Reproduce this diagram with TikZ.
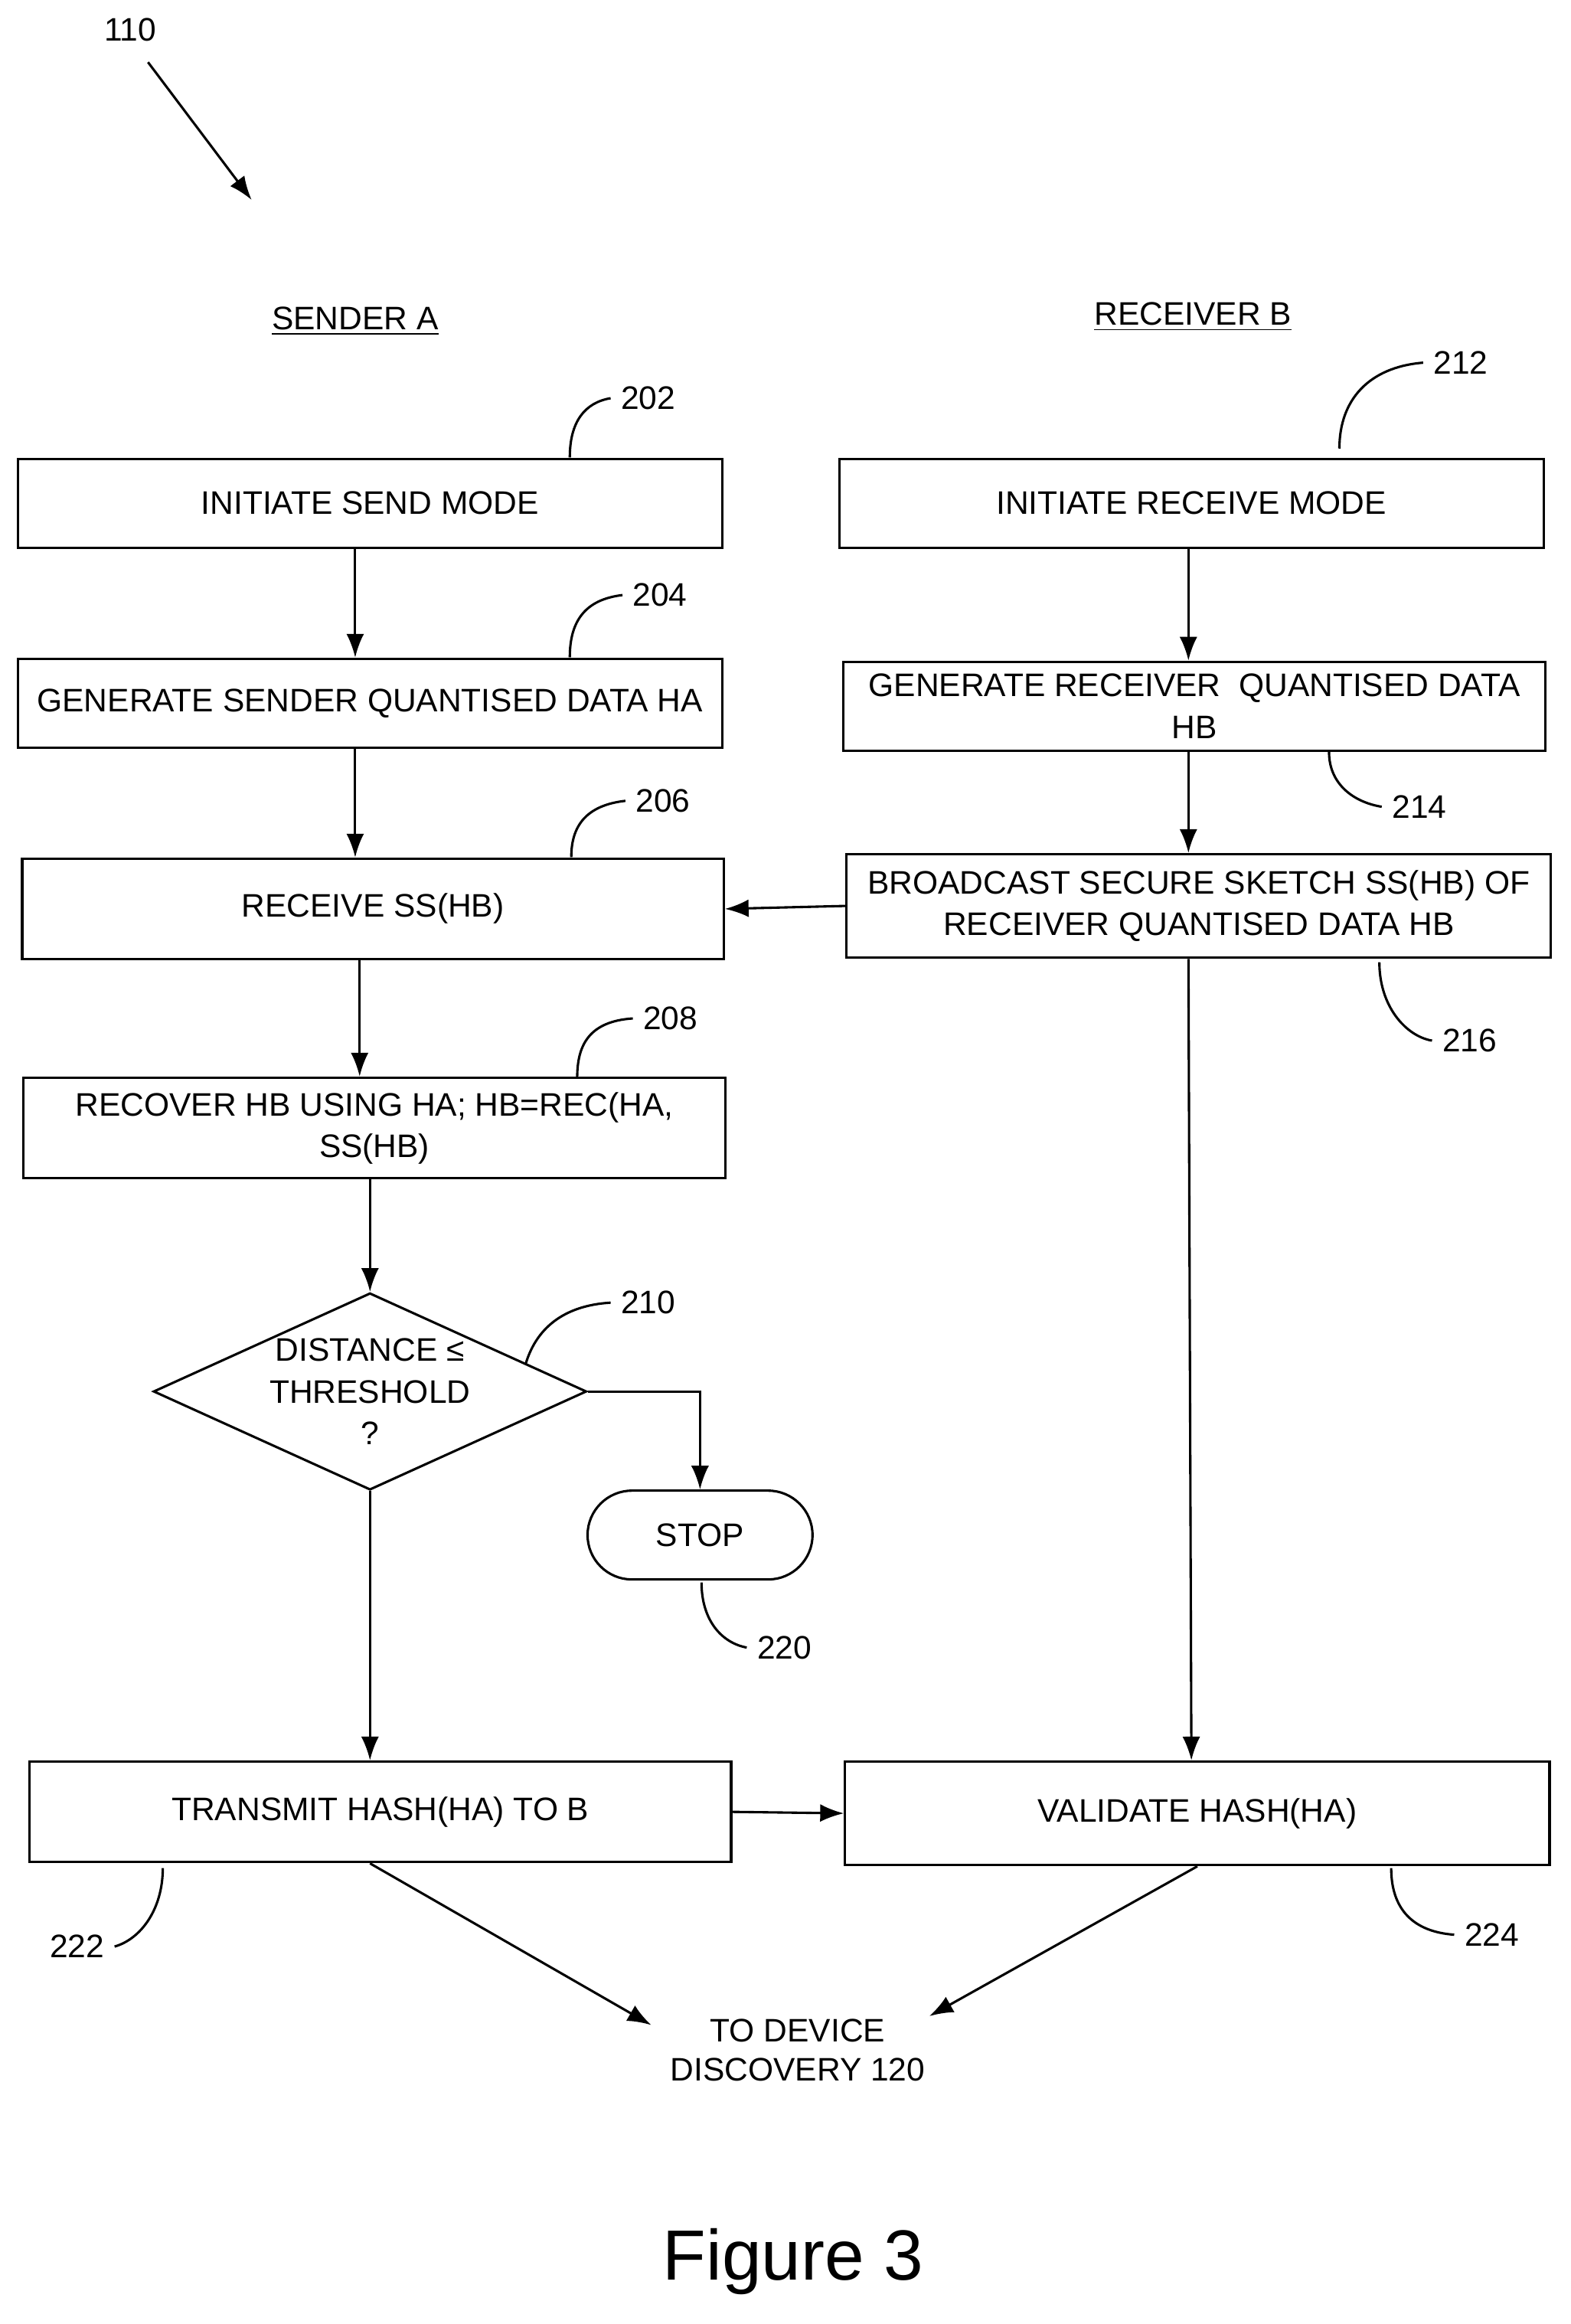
\documentclass[tikz,border=0pt]{standalone}
\usepackage{fontspec}
\setmainfont{Liberation Sans}
\usetikzlibrary{shapes.geometric,arrows.meta}
\begin{document}
\begin{tikzpicture}[x=0.5pt,y=0.5pt,yscale=-1,xscale=1,
  box/.style={draw,thick,minimum height=30pt,align=center,font=\fontsize{11}{14}\selectfont,inner sep=2pt},
  lbl/.style={font=\fontsize{11}{13}\selectfont},
  flow/.style={thick,-{Latex[length=8pt,width=6pt]}}]

\useasboundingbox (0,0) rectangle (1061,1570);

\node[lbl] (n110) at (88,20) {110};
\draw[flow] (100,42) -- (170,135);
\node[lbl] (sa) at (240,217) {\underline{SENDER A}};
\node[lbl] (rb) at (806,214) {\underline{RECEIVER B}};

\node[box,minimum width=238pt] (b202) at (250,340) {INITIATE SEND MODE};
\node[box,minimum width=238pt] (b204) at (250,475) {GENERATE SENDER QUANTISED DATA HA};
\node[box,minimum width=237pt,minimum height=34pt] (b206) at (252,614) {RECEIVE SS(HB)};
\node[box,minimum width=237pt,minimum height=34pt] (b208) at (253,762) {RECOVER HB USING HA; HB=REC(HA,\\SS(HB)};
\node[draw,thick,diamond,aspect=2.2,minimum width=135pt,minimum height=62pt,inner sep=0pt,align=center,font=\fontsize{11}{14}\selectfont] (d210) at (250,940) {DISTANCE ≤\\THRESHOLD\\?};
\node[draw,thick,rounded corners=15pt,minimum width=76pt,minimum height=30pt,font=\fontsize{11}{14}\selectfont] (stop) at (473,1037) {STOP};
\node[box,minimum width=237pt,minimum height=34pt] (b222) at (257,1224) {TRANSMIT HASH(HA) TO B};

\node[box,minimum width=238pt] (b212) at (805,340) {INITIATE RECEIVE MODE};
\node[box,minimum width=237pt] (b214) at (807,477) {GENERATE RECEIVER\ \ QUANTISED DATA\\HB};
\node[box,minimum width=238pt,minimum height=35pt] (b216) at (810,612) {BROADCAST SECURE SKETCH SS(HB) OF\\RECEIVER QUANTISED DATA HB};
\node[box,minimum width=238pt,minimum height=35pt] (b224) at (809,1225) {VALIDATE HASH(HA)};
\node[lbl,align=center] (end) at (539,1385) {TO DEVICE\\DISCOVERY 120};
\node[font=\fontsize{24}{28}\selectfont] (fig) at (536,1528) {Figure 3};

% flow arrows
\draw[flow] (b202.south -| 240,0) -- (b204.north -| 240,0);
\draw[flow] (b204.south -| 240,0) -- (b206.north -| 240,0);
\draw[flow] (b206.south -| 243,0) -- (b208.north -| 243,0);
\draw[flow] (b208.south -| d210.north) -- (d210.north);
\draw[flow] (d210.east) -| (stop.north);
\draw[flow] (d210.south) -- (b222.north -| d210.south);
\draw[flow] (b212.south -| 803,0) -- (b214.north -| 803,0);
\draw[flow] (b214.south -| 803,0) -- (b216.north -| 803,0);
\draw[flow] (b216.west) -- (b206.east);
\draw[flow] (b216.south -| 803,0) -- (b224.north -| 805,0);
\draw[flow] (b222.east) -- (b224.west);
\draw[flow] (b222.south -| 250,0) -- (440,1368);
\draw[flow] (b224.south) -- (628,1362);

% reference numerals
\node[lbl] (n202) at (438,269) {202};
\draw[thick] (385,309) .. controls (385,285) and (395,272) .. (n202.west);
\node[lbl] (n204) at (446,402) {204};
\draw[thick] (385,444) .. controls (385,420) and (395,405) .. (n204.west);
\node[lbl] (n206) at (448,541) {206};
\draw[thick] (386,579) .. controls (386,558) and (396,544) .. (n206.west);
\node[lbl] (n208) at (453,688) {208};
\draw[thick] (390,728) .. controls (390,706) and (398,690) .. (n208.west);
\node[lbl] (n210) at (438,880) {210};
\draw[thick] (355,922) .. controls (362,898) and (380,882) .. (n210.west);
\node[lbl] (n212) at (987,245) {212};
\draw[thick] (905,303) .. controls (905,270) and (925,248) .. (n212.west);
\node[lbl] (n214) at (959,545) {214};
\draw[thick] (898,508) .. controls (898,530) and (915,542) .. (n214.west);
\node[lbl] (n216) at (993,703) {216};
\draw[thick] (932,650) .. controls (932,680) and (950,700) .. (n216.west);
\node[lbl] (n220) at (530,1113) {220};
\draw[thick] (474,1069) .. controls (474,1095) and (488,1110) .. (n220.west);
\node[lbl] (n222) at (52,1315) {222};
\draw[thick] (110,1262) .. controls (110,1290) and (95,1310) .. (n222.east);
\node[lbl] (n224) at (1008,1307) {224};
\draw[thick] (940,1262) .. controls (940,1290) and (955,1305) .. (n224.west);
\end{tikzpicture}
\end{document}
